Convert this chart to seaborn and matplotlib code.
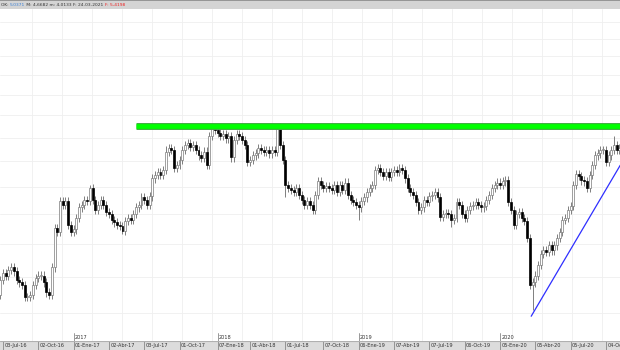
import numpy as np
import matplotlib
matplotlib.use("Agg")
import matplotlib.pyplot as plt
from matplotlib.ticker import NullLocator
import seaborn as sns

# weekly closes, late Jun-2016 .. early Nov-2020
closes = [
    2.48, 2.53, 2.51, 2.55, 2.57, 2.54, 2.48, 2.46, 2.44, 2.36,
    2.36, 2.37, 2.44, 2.49, 2.51, 2.51, 2.46, 2.39, 2.37, 2.57,
    2.88, 2.85, 3.12, 3.08, 3.12, 2.91, 2.85, 2.87, 2.97, 3.06,
    3.08, 3.13, 3.12, 3.24, 3.13, 3.04, 3.08, 3.13, 3.08, 3.02,
    3.00, 2.95, 2.93, 2.91, 2.90, 2.86, 2.94, 2.97, 2.95, 3.00,
    3.06, 3.08, 3.15, 3.13, 3.08, 3.16, 3.33, 3.36, 3.39, 3.36,
    3.41, 3.60, 3.64, 3.62, 3.43, 3.46, 3.51, 3.62, 3.67, 3.69,
    3.65, 3.67, 3.62, 3.56, 3.53, 3.60, 3.46, 3.77, 3.85, 3.83,
    3.80, 3.77, 3.79, 3.74, 3.77, 3.54, 3.72, 3.79, 3.77, 3.72,
    3.67, 3.49, 3.51, 3.56, 3.58, 3.64, 3.62, 3.60, 3.62, 3.58,
    3.62, 3.60, 3.86, 3.67, 3.51, 3.27, 3.24, 3.22, 3.20, 3.24,
    3.17, 3.13, 3.08, 3.12, 3.08, 3.04, 3.17, 3.30, 3.27, 3.24,
    3.26, 3.24, 3.22, 3.27, 3.20, 3.27, 3.22, 3.29, 3.17, 3.13,
    3.11, 3.08, 3.06, 3.12, 3.15, 3.20, 3.24, 3.27, 3.41, 3.43,
    3.39, 3.35, 3.39, 3.34, 3.39, 3.41, 3.39, 3.43, 3.41, 3.33,
    3.24, 3.20, 3.17, 3.11, 3.04, 3.06, 3.13, 3.11, 3.16, 3.17,
    3.20, 3.15, 2.98, 3.00, 3.01, 3.00, 2.95, 2.97, 3.11, 3.08,
    3.00, 2.97, 3.04, 3.07, 3.08, 3.11, 3.08, 3.06, 3.07, 3.13,
    3.17, 3.24, 3.27, 3.29, 3.27, 3.30, 3.31, 3.11, 3.04, 2.91,
    3.00, 3.02, 2.97, 2.94, 2.80, 2.44, 2.46, 2.51, 2.59, 2.67,
    2.70, 2.69, 2.74, 2.70, 2.74, 2.80, 2.85, 2.95, 2.97, 3.04,
    3.07, 3.27, 3.37, 3.35, 3.31, 3.30, 3.24, 3.36, 3.46, 3.56,
    3.58, 3.62, 3.62, 3.49, 3.56, 3.62, 3.67, 3.62, 3.64,
]
first_open = 2.37
# notable wick extremes (week index -> price)
wick_highs = {33: 3.27, 79: 3.88, 102: 3.88, 61: 3.66, 226: 3.77, 20: 2.92}
wick_lows = {45: 2.83, 132: 2.95, 166: 2.89, 196: 2.27, 105: 3.15, 9: 2.33}

tick_weeks = [1, 14, 27, 40, 53, 66, 80, 92, 105, 119, 132, 145, 158, 171,
              184, 197, 210, 223]
tick_labels = ["03-Jul-16", "02-Oct-16", "01-Ene-17", "02-Abr-17", "03-Jul-17",
               "01-Oct-17", "07-Ene-18", "01-Abr-18", "01-Jul-18", "07-Oct-18",
               "06-Ene-19", "07-Abr-19", "07-Jul-19", "06-Oct-19", "05-Ene-20",
               "05-Abr-20", "05-Jul-20", "04-Oct-20"]
year_weeks = [27, 80, 132, 184]
year_labels = ["2017", "2018", "2019", "2020"]

resistance = 3.88
resistance_start = 50
trend_start = (195.5, 2.23)
trend_end = (228.3, 3.46)

header_parts = [("OK: ", "#333333"), ("5,0371", "#3a7fd5"),
                (" M: 4,6682 m: 4,0133 F: 24-03-2021 ", "#333333"),
                ("F: 5,4198", "#ee2222")]

sns.set_style("white")
plt.rcParams["font.family"] = ["DejaVu Sans"]

closes = np.array(closes)
n = len(closes)
idx = np.arange(n)
opens = np.concatenate([[first_open], closes[:-1]])
highs = np.maximum(opens, closes) * 1.012
lows = np.minimum(opens, closes) * 0.988
for k, v in wick_highs.items():
    highs[k] = v
for k, v in wick_lows.items():
    lows[k] = v

fig = plt.figure(figsize=(6.2, 3.5), dpi=100)
H = 350.0
ax = fig.add_axes([0, 9 / H, 1, 332 / H])
ax.set_yscale("log")
ax.set_xlim(-0.1, 228.2)
ax.set_ylim(2.075, 5.45)

# grid
for p in np.arange(2.25, 5.5, 0.25):
    ax.axhline(p, color="#efefef", lw=0.6, zorder=0)
for gx in np.arange(11.7, 229, 11.05):
    ax.axvline(gx, color="#efefef", lw=0.6, zorder=0)

# candles
up = closes >= opens
ax.vlines(idx, lows, highs, color="#6a6a6a", lw=0.6, zorder=2)
body_lo = np.minimum(opens, closes)
body_h = np.abs(closes - opens)
body_h = np.maximum(body_h, 0.006)
ax.bar(idx[up], body_h[up], bottom=body_lo[up], width=0.72,
       color="white", edgecolor="#7a7a7a", linewidth=0.5, zorder=3)
ax.bar(idx[~up], body_h[~up], bottom=body_lo[~up], width=0.72,
       color="black", edgecolor="black", linewidth=0.5, zorder=3)

# drawings
ax.plot([resistance_start, 228.5], [resistance, resistance],
        color="#3fae3f", lw=5.0, solid_capstyle="butt", zorder=4)
ax.plot([resistance_start, 228.5], [resistance, resistance],
        color="#00ff00", lw=3.4, solid_capstyle="butt", zorder=5)
ax.plot([trend_start[0], trend_end[0]], [trend_start[1], trend_end[1]],
        color="#2f2fff", lw=0.9, zorder=5)

# year markers
trans = ax.get_xaxis_transform()
for w, lab in zip(year_weeks, year_labels):
    ax.plot([w, w], [0, 0.024], color="#888888", lw=0.6, transform=trans,
            clip_on=False)
    ax.text(w + 0.5, 0.012, lab, transform=trans, fontsize=3.6,
            color="#333333", va="center", ha="left")

ax.set_xticks([])
ax.set_yticks([])
ax.yaxis.set_minor_locator(NullLocator())
ax.xaxis.set_minor_locator(NullLocator())
for s in ax.spines.values():
    s.set_visible(False)

# bottom date band
band = fig.add_axes([0, 0, 1, 9 / H], sharex=ax)
band.set_facecolor("#dcdcdc")
band.set_ylim(0, 1)
for w, lab in zip(tick_weeks, tick_labels):
    band.plot([w, w], [0, 1], color="#888888", lw=0.6)
    band.text(w + 0.5, 0.45, lab, fontsize=3.6, color="#333333",
              va="center", ha="left")
band.set_xticks([])
band.set_yticks([])
for s in band.spines.values():
    s.set_visible(False)
band.axhline(1, color="#b0b0b0", lw=0.8)

# header band
head = fig.add_axes([0, 341 / H, 1, 9 / H])
head.set_facecolor("#d4d4d4")
head.set_xlim(0, 620)
head.set_ylim(0, 1)
head.axhline(0.97, color="#8a8a8a", lw=1.2)
head.set_xticks([])
head.set_yticks([])
for s in head.spines.values():
    s.set_visible(False)

fig.canvas.draw()
renderer = fig.canvas.get_renderer()
xpos = 1.0
for txt, col in header_parts:
    t = head.text(xpos, 0.42, txt, fontsize=3.2, color=col, va="center",
                  ha="left")
    bb = t.get_window_extent(renderer=renderer)
    xpos += bb.width

fig.savefig("out.png", dpi=100)
